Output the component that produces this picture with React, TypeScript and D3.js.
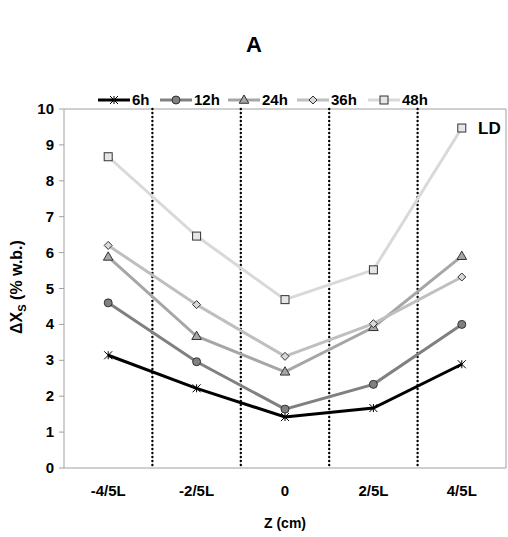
import React from "react";
import * as d3 from "d3";

const categories = ["-4/5L", "-2/5L", "0", "2/5L", "4/5L"];
const seriesNames = ["6h", "12h", "24h", "36h", "48h"];
const s6h = [3.14, 2.22, 1.42, 1.67, 2.89];
const s12h = [4.6, 2.96, 1.64, 2.33, 4.0];
const s24h = [5.88, 3.67, 2.68, 3.92, 5.9];
const s36h = [6.2, 4.55, 3.11, 4.02, 5.32];
const s48h = [8.67, 6.46, 4.69, 5.52, 9.47];
const yTicks = [0, 1, 2, 3, 4, 5, 6, 7, 8, 9, 10];

const seriesData = [s6h, s12h, s24h, s36h, s48h];
const lineColors = ["#000000", "#808080", "#a6a6a6", "#bfbfbf", "#d9d9d9"];
const markerFill = ["#000000", "#808080", "#a6a6a6", "#d9d9d9", "#e6e6e6"];
const markerTypes = ["star", "circle", "triangle", "diamond", "square"];

const W = 508;
const H = 537;
const left = 64;
const right = 506;
const top = 109;
const bottom = 468;
const FONT = "'Liberation Sans', Arial, sans-serif";

function Marker({ type, x, y, fill }: { type: string; x: number; y: number; fill: string }) {
  if (type === "star") {
    const r = 4;
    return (
      <g stroke="#000" strokeWidth={1}>
        <line x1={x - r} y1={y - r} x2={x + r} y2={y + r} />
        <line x1={x - r} y1={y + r} x2={x + r} y2={y - r} />
        <line x1={x} y1={y - r} x2={x} y2={y + r} />
      </g>
    );
  }
  if (type === "circle") {
    return <circle cx={x} cy={y} r={4} fill={fill} stroke="#333" strokeWidth={1} />;
  }
  if (type === "triangle") {
    const p = d3.symbol(d3.symbolTriangle, 40)();
    return <path d={p || ""} transform={`translate(${x},${y + 0.5})`} fill={fill} stroke="#333" strokeWidth={1} />;
  }
  if (type === "diamond") {
    const r = 4;
    return (
      <path d={`M${x},${y - r}L${x + r},${y}L${x},${y + r}L${x - r},${y}Z`} fill={fill} stroke="#333" strokeWidth={1} />
    );
  }
  return <rect x={x - 4} y={y - 4} width={8} height={8} fill={fill} stroke="#333" strokeWidth={1} />;
}

export default function App() {
  const x = d3.scaleBand<string>().domain(categories).range([left, right]);
  const y = d3.scaleLinear().domain([0, 10]).range([bottom, top]);
  const cx = (c: string) => (x(c) || 0) + x.bandwidth() / 2;
  const line = d3
    .line<number>()
    .x((_, i) => cx(categories[i]))
    .y((d) => y(d));

  const legendX = [98, 160, 228, 297, 368];

  return (
    <svg width={W} height={H} style={{ position: "absolute", left: 0, top: 0, background: "#fff" }} fontFamily={FONT}>
      <rect width={W} height={H} fill="#fff" />
      <text x={254} y={52} textAnchor="middle" fontSize={22} fontWeight="bold">A</text>

      {/* legend */}
      {seriesNames.map((n, i) => (
        <g key={n}>
          <line x1={legendX[i]} x2={legendX[i] + 32} y1={100} y2={100} stroke={lineColors[i]} strokeWidth={3} />
          <Marker type={markerTypes[i]} x={legendX[i] + 16} y={100} fill={markerFill[i]} />
          <text x={legendX[i] + 34} y={105} fontSize={15} fontWeight="bold">{n}</text>
        </g>
      ))}

      {/* frame */}
      <line x1={left} x2={right} y1={top} y2={top} stroke="#a0a0a0" strokeWidth={1} />
      <line x1={right} x2={right} y1={top} y2={bottom} stroke="#a0a0a0" strokeWidth={1} />
      <line x1={left} x2={left} y1={top} y2={bottom} stroke="#a0a0a0" strokeWidth={1} />
      <line x1={left} x2={right} y1={bottom} y2={bottom} stroke="#a0a0a0" strokeWidth={1} />

      {/* y ticks */}
      {yTicks.map((t) => (
        <g key={t}>
          <line x1={left - 5} x2={left} y1={y(t)} y2={y(t)} stroke="#a0a0a0" />
          <text x={left - 10} y={y(t) + 5} textAnchor="end" fontSize={15} fontWeight="bold">{t}</text>
        </g>
      ))}

      {/* dotted separators */}
      {categories.slice(1).map((c) => (
        <line key={c} x1={x(c)} x2={x(c)} y1={top} y2={bottom} stroke="#000" strokeWidth={2.4} strokeDasharray="0 4" strokeLinecap="round" />
      ))}

      {/* x labels */}
      {categories.map((c) => (
        <text key={c} x={cx(c)} y={bottom + 28} textAnchor="middle" fontSize={15} fontWeight="bold">{c}</text>
      ))}
      <text x={285} y={528} textAnchor="middle" fontSize={14} fontWeight="bold">Z (cm)</text>
      <text transform={`translate(22,287) rotate(-90)`} textAnchor="middle" fontSize={16} fontWeight="bold">
        ΔX<tspan fontSize={11} dy={4}>S</tspan><tspan dy={-4}>{"  (% w.b.)"}</tspan>
      </text>

      {/* series */}
      {seriesData.map((s, i) => (
        <path key={"l" + i} d={line(s) || ""} fill="none" stroke={lineColors[i]} strokeWidth={3} />
      ))}
      {seriesData.map((s, i) =>
        s.map((v, j) => <Marker key={`m${i}-${j}`} type={markerTypes[i]} x={cx(categories[j])} y={y(v)} fill={markerFill[i]} />)
      )}

      <text x={478} y={134} fontSize={17} fontWeight="bold">LD</text>
    </svg>
  );
}
